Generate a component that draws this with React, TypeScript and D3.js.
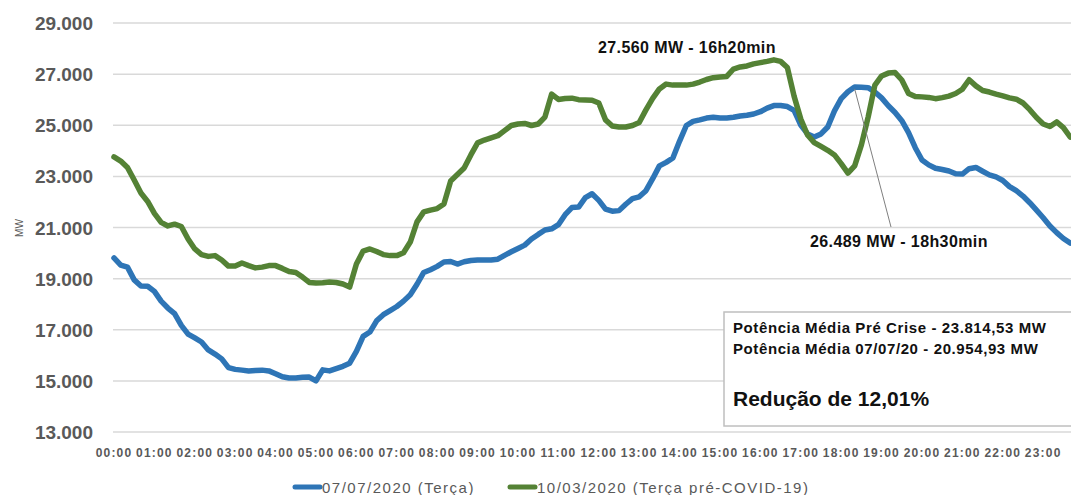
import React from 'react';
import * as d3 from 'd3';

// minutes from 00:00, one reading every 10 min up to 23:40
const times = d3.range(0, 1430, 10);

// 10/03/2020 (Terça pré-COVID-19)
const preCovid = [
  23760, 23600, 23350, 22860, 22350, 22020, 21550, 21200, 21060, 21130,
  21040, 20550, 20160, 19940, 19870, 19900, 19730, 19490, 19490, 19610,
  19510, 19420, 19450, 19510, 19510, 19400, 19280, 19240, 19060, 18850,
  18830, 18840, 18870, 18850, 18790, 18670, 19570, 20080, 20160, 20060,
  19940, 19900, 19900, 20010, 20430, 21220, 21610, 21680, 21740, 21920,
  22820, 23070, 23330, 23840, 24310, 24420, 24510, 24590, 24790, 24990,
  25050, 25070, 24990, 25050, 25320, 26220, 26010, 26050, 26060, 26000,
  25990, 25980, 25870, 25210, 24970, 24930, 24930, 24990, 25110, 25600,
  26050, 26420, 26610, 26570, 26570, 26570, 26610, 26690, 26790, 26860,
  26890, 26910, 27200, 27280, 27320, 27400, 27450, 27500, 27560, 27500,
  27260, 26140, 25240, 24620, 24320, 24170, 24020, 23840, 23500, 23130,
  23410, 24230, 25320, 26570, 26930, 27040, 27060, 26770, 26240, 26120,
  26110, 26090, 26040, 26080, 26140, 26240, 26410, 26780, 26540, 26360,
  26300, 26220, 26150, 26070, 26020, 25870, 25610, 25300, 25050, 24950,
  25130, 24910, 24540,
];

// 07/07/2020 (Terça)
const july = [
  19810, 19530, 19450, 18950, 18710, 18700, 18500, 18120, 17850, 17630,
  17170, 16830, 16680, 16520, 16210, 16050, 15860, 15520, 15450, 15420,
  15390, 15410, 15420, 15390, 15280, 15160, 15110, 15110, 15140, 15150,
  15000, 15430, 15390, 15480, 15570, 15690, 16150, 16740, 16910, 17350,
  17590, 17750, 17910, 18120, 18370, 18780, 19240, 19350, 19480, 19650,
  19670, 19570, 19660, 19710, 19730, 19730, 19730, 19760, 19910, 20050,
  20180, 20310, 20550, 20730, 20900, 20950, 21110, 21500, 21780, 21800,
  22170, 22320, 22060, 21720, 21640, 21660, 21910, 22130, 22200, 22440,
  22910, 23410, 23550, 23720, 24380, 24990, 25150, 25210, 25280, 25310,
  25280, 25280, 25310, 25360, 25390, 25440, 25530, 25670, 25770, 25770,
  25730, 25580, 25010, 24660, 24540, 24660, 24930, 25560, 26040, 26310,
  26500, 26489, 26470, 26300, 26070, 25760, 25500, 25180, 24710, 24120,
  23640, 23450, 23320, 23270, 23210, 23100, 23090, 23300, 23350, 23200,
  23060, 22980, 22840, 22600, 22440, 22230, 21970, 21680, 21380, 21060,
  20800, 20570, 20390,
];

const yTicks = [13000, 15000, 17000, 19000, 21000, 23000, 25000, 27000, 29000];
const hourLabels = d3.range(0, 24).map(h => (h < 10 ? '0' + h : '' + h) + ':00');

const seriesNames = ['07/07/2020 (Terça)', '10/03/2020 (Terça pré-COVID-19)'];
const colors = ['#2E75B6', '#548235'];

const peakLabel = '27.560 MW - 16h20min';
const peakJulyLabel = '26.489 MW - 18h30min';
const boxLines = [
  'Potência Média Pré Crise - 23.814,53 MW',
  'Potência Média 07/07/20 - 20.954,93 MW',
];
const boxTitle = 'Redução de 12,01%';

const W = 1071;
const H = 495;
const FONT = '"Liberation Sans", Arial, sans-serif';
const GRAY = '#595959';

export default function App() {
  const x = d3.scaleLinear().domain([0, 1440]).range([114, 114 + 24 * 40.4]);
  const y = d3.scaleLinear().domain([13000, 29000]).range([432, 23]);

  const line = d3.line<number>()
    .x((d, i) => x(times[i]))
    .y(d => y(d));

  // peak of the July curve, used for the leader line
  const julyPeakIdx = july.indexOf(d3.max(july) as number);
  const jpx = x(times[julyPeakIdx]);
  const jpy = y(july[julyPeakIdx]);

  return (
    <svg width={W} height={H} style={{ position: 'fixed', left: 0, top: 0, background: '#fff' }}
      fontFamily={FONT}>
      {/* grid + y labels */}
      {yTicks.map(t => (
        <g key={t}>
          <line x1={113} x2={W} y1={y(t)} y2={y(t)} stroke="#d9d9d9" strokeWidth={1.5} />
          <text x={93} y={y(t) + 7} textAnchor="end" fontSize={19} fontWeight="bold" fill={GRAY}>
            {d3.format(',.3f')(t / 1000)}
          </text>
        </g>
      ))}
      <text transform="translate(23,228) rotate(-90)" textAnchor="middle" fontSize={10} fill={GRAY}>MW</text>

      {/* x labels */}
      {hourLabels.map((lab, h) => (
        <text key={lab} x={x(h * 60)} y={457} textAnchor="middle" fontSize={12} fontWeight="bold"
          letterSpacing={1.2} fill={GRAY}>{lab}</text>
      ))}

      {/* series */}
      <path d={line(july) || ''} fill="none" stroke={colors[0]} strokeWidth={5.5} strokeLinejoin="round" strokeLinecap="round" />
      <path d={line(preCovid) || ''} fill="none" stroke={colors[1]} strokeWidth={5.5} strokeLinejoin="round" strokeLinecap="round" />

      {/* callouts */}
      <text x={598} y={53} fontSize={16} fontWeight="bold" letterSpacing={0.4} fill="#111">{peakLabel}</text>
      <line x1={jpx} y1={jpy + 2} x2={891} y2={227} stroke="#7f7f7f" strokeWidth={1} />
      <text x={810} y={247} fontSize={16} fontWeight="bold" letterSpacing={0.4} fill="#111">{peakJulyLabel}</text>

      {/* info box */}
      <rect x={724} y={312} width={W} height={114} fill="#fff" stroke="#bfbfbf" strokeWidth={1.5} />
      {boxLines.map((l, i) => (
        <text key={l} x={733} y={333 + i * 21} fontSize={15} fontWeight="bold" letterSpacing={0.6} fill="#111">{l}</text>
      ))}
      <text x={733} y={406} fontSize={21} fontWeight="bold" fill="#111">{boxTitle}</text>

      {/* legend */}
      {seriesNames.map((n, i) => {
        const lx = i === 0 ? 295 : 510;
        return (
          <g key={n}>
            <line x1={lx} x2={lx + 25} y1={487} y2={487} stroke={colors[i]} strokeWidth={5} strokeLinecap="round" />
            <text x={lx + 27} y={493} fontSize={15} letterSpacing={1.5} fill={GRAY}>{n}</text>
          </g>
        );
      })}
    </svg>
  );
}
